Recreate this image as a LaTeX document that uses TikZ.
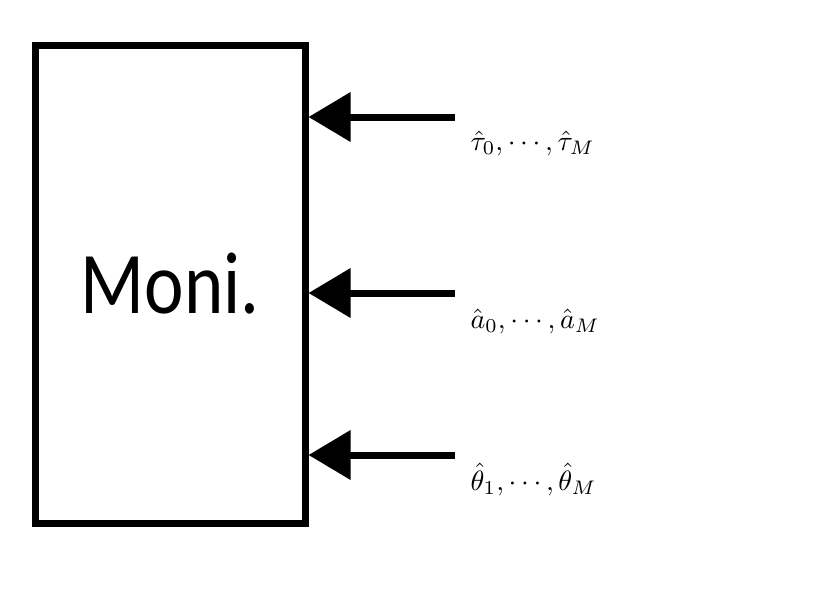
\documentclass[tikz,border=0pt]{standalone}
\usepackage{fontspec}
\newfontfamily\carl{Carlito}
\usetikzlibrary{arrows.meta}
\begin{document}
\begin{tikzpicture}[x=1pt,y=-1pt,
  arr/.style={line width=7pt,-{Triangle[length=42pt,width=48pt]}},
  lab/.style={anchor=base west,inner sep=0pt,scale=2.8,transform shape}]
\useasboundingbox (0,0) rectangle (833,608);
\node[draw,line width=7pt,minimum width=270pt,minimum height=478pt,inner sep=0pt] (box) at (170,284) {};
\node[font=\carl\fontsize{88}{100}\selectfont,xscale=0.85] (t) at (box.center) {Moni.};
\coordinate (s1) at (455,117);
\coordinate (s2) at (455,293);
\coordinate (s3) at (455,455);
\node[lab] (l1) at (470,150) {$\hat\tau_0,\cdots,\hat\tau_M$};
\node[lab] (l2) at (470,328) {$\hat a_0,\cdots,\hat a_M$};
\node[lab] (l3) at (470,490) {$\hat\theta_1,\cdots,\hat\theta_M$};
\draw[arr] (s1) -- (box.east |- s1);
\draw[arr] (s2) -- (box.east |- s2);
\draw[arr] (s3) -- (box.east |- s3);
\end{tikzpicture}
\end{document}
